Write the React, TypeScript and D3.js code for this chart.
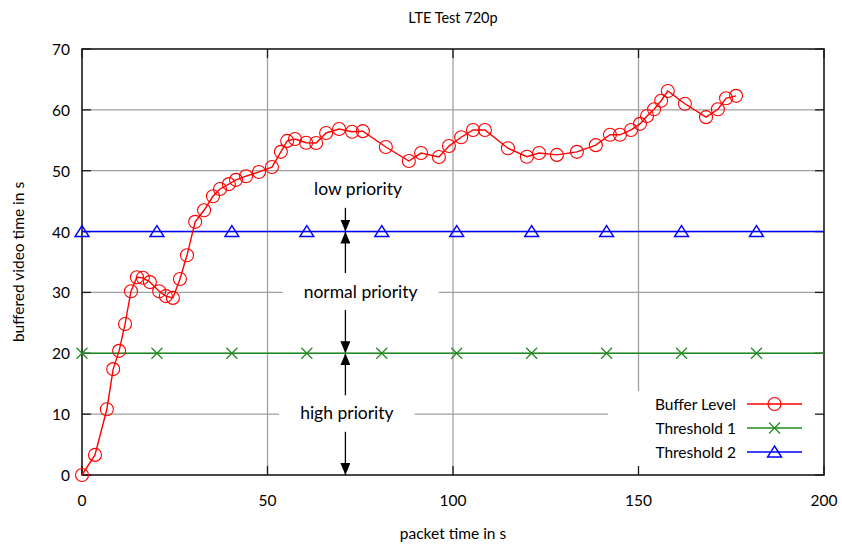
import * as d3 from 'd3'
import { useEffect, useRef } from 'react'

const bufferTime = [
  0, 3.5, 6.7, 8.4, 10, 11.6, 13.2, 14.8, 16.4, 18.3, 20.8, 22.6, 24.5, 26.4, 28.3, 30.5, 32.9, 35.3, 37.2, 39.6,
  41.5, 44.2, 47.7, 51.2, 53.6, 55.3, 57.4, 60.4, 63.1, 65.8, 69.3, 72.8, 75.7, 81.9, 88.1, 91.4, 96.2, 98.9, 102.2,
  105.4, 108.6, 114.8, 119.9, 123.2, 128.0, 133.4, 138.5, 142.3, 145.0, 148.0, 150.4, 152.3, 154.2, 156.1, 157.9,
  162.5, 168.2, 171.4, 173.6, 176.3,
]
const bufferLevel = [
  0, 3.3, 10.8, 17.4, 20.4, 24.8, 30.2, 32.5, 32.4, 31.7, 30.2, 29.4, 29.1, 32.2, 36.1, 41.6, 43.5, 45.8, 47.0, 47.8,
  48.5, 49.1, 49.8, 50.6, 53.1, 54.9, 55.2, 54.6, 54.55, 56.2, 56.85, 56.4, 56.5, 53.9, 51.6, 52.9, 52.25, 54.05, 55.5,
  56.7, 56.7, 53.7, 52.3, 52.9, 52.6, 53.1, 54.2, 55.9, 55.9, 56.7, 57.7, 59.0, 60.1, 61.5, 63.1, 61.0, 58.8, 60.1,
  61.9, 62.3,
]

const thresholdTime = [0, 20.2, 40.4, 60.6, 80.8, 101, 121.2, 141.4, 161.6, 181.8, 200]
const threshold1 = [20, 20, 20, 20, 20, 20, 20, 20, 20, 20, 20]
const threshold2 = [40, 40, 40, 40, 40, 40, 40, 40, 40, 40, 40]

const xTicks = [0, 50, 100, 150, 200]
const yTicks = [0, 10, 20, 30, 40, 50, 60, 70]

const zoneLabels = ['low priority', 'normal priority', 'high priority']
const zoneLabelX = [74.4, 75.1, 71.4]
const zoneLabelY = [47.0, 30.1, 10.2]

const arrowX = 71
const arrowFrom = [43.9, 33.2, 27.1, 13.1, 7.1]
const arrowTo = [40, 40, 20, 20, 0]

const legendNames = ['Buffer Level', 'Threshold 1', 'Threshold 2']

const RED = '#ff0000'
const GREEN = '#1f8a1f'
const BLUE = '#0000ff'
const GRID = '#a0a0a0'
const FONT = 'Lato, "Open Sans", sans-serif'

export default function App() {
  const ref = useRef<SVGSVGElement | null>(null)
  const width = 842
  const height = 544

  useEffect(() => {
    const svgEl = ref.current
    if (!svgEl) return
    const svg = d3.select(svgEl)
    svg.selectAll('*').remove()

    const left = 82
    const right = 824
    const top = 49
    const bottom = 475
    const x = d3.scaleLinear().domain([0, 200]).range([left, right])
    const y = d3.scaleLinear().domain([0, 70]).range([bottom, top])

    svg.append('rect').attr('width', width).attr('height', height).attr('fill', '#fff')

    // grid
    const gGrid = svg.append('g')
    for (const t of xTicks.slice(1, -1)) {
      gGrid.append('line').attr('x1', x(t)).attr('x2', x(t)).attr('y1', top).attr('y2', bottom)
        .attr('stroke', GRID).attr('stroke-width', 1.3)
    }
    for (const t of yTicks.slice(1, -1)) {
      gGrid.append('line').attr('x1', left).attr('x2', right).attr('y1', y(t)).attr('y2', y(t))
        .attr('stroke', GRID).attr('stroke-width', 1.3)
    }

    // label boxes (white, cut the grid)
    const gLabels = svg.append('g')
    zoneLabels.forEach((lbl, i) => {
      const t = gLabels.append('text')
        .attr('x', x(zoneLabelX[i]))
        .attr('y', y(zoneLabelY[i]))
        .attr('text-anchor', 'middle')
        .attr('dominant-baseline', 'central')
        .attr('font-family', FONT)
        .attr('font-size', 17.5)
        .attr('fill', '#000')
        .text(lbl)
      const w = (t.node() as SVGTextElement).getComputedTextLength()
      gLabels.insert('rect', 'text')
        .attr('x', x(zoneLabelX[i]) - w / 2 - 21)
        .attr('y', y(zoneLabelY[i]) - 13)
        .attr('width', w + 42)
        .attr('height', 26)
        .attr('fill', '#fff')
    })

    // legend box
    svg.append('rect').attr('x', 608).attr('y', 391).attr('width', right - 608).attr('height', bottom - 391)
      .attr('fill', '#fff')

    // border + ticks
    const gAxis = svg.append('g').attr('stroke', '#1a1a1a')
    for (const t of xTicks) {
      gAxis.append('line').attr('x1', x(t)).attr('x2', x(t)).attr('y1', bottom).attr('y2', bottom - 9).attr('stroke-width', 1.3)
      gAxis.append('line').attr('x1', x(t)).attr('x2', x(t)).attr('y1', top).attr('y2', top + 9).attr('stroke-width', 1.3)
    }
    for (const t of yTicks) {
      gAxis.append('line').attr('x1', left).attr('x2', left + 9).attr('y1', y(t)).attr('y2', y(t)).attr('stroke-width', 1.3)
      gAxis.append('line').attr('x1', right).attr('x2', right - 9).attr('y1', y(t)).attr('y2', y(t)).attr('stroke-width', 1.3)
    }
    gAxis.append('rect').attr('x', left).attr('y', top).attr('width', right - left).attr('height', bottom - top)
      .attr('fill', 'none').attr('stroke-width', 1.6)

    // tick labels
    const gText = svg.append('g').attr('font-family', FONT).attr('font-size', 15.5).attr('fill', '#000')
    for (const t of xTicks) {
      gText.append('text').attr('x', x(t)).attr('y', 500).attr('text-anchor', 'middle')
        .attr('dominant-baseline', 'central').text(t)
    }
    for (const t of yTicks) {
      gText.append('text').attr('x', 70).attr('y', y(t)).attr('text-anchor', 'end')
        .attr('dominant-baseline', 'central').text(t)
    }
    gText.append('text').attr('x', (left + right) / 2).attr('y', 533).attr('text-anchor', 'middle')
      .attr('dominant-baseline', 'central').text('packet time in s')
    gText.append('text').attr('transform', `translate(18,${(top + bottom) / 2}) rotate(-90)`)
      .attr('text-anchor', 'middle').attr('dominant-baseline', 'central').text('buffered video time in s')
    gText.append('text').attr('x', (left + right) / 2).attr('y', 17).attr('text-anchor', 'middle')
      .attr('dominant-baseline', 'central').attr('font-size', 14.5).text('LTE Test 720p')

    // arrows
    const defs = svg.append('defs')
    defs.append('marker').attr('id', 'ah').attr('viewBox', '0 0 12 10').attr('refX', 12).attr('refY', 5)
      .attr('markerWidth', 12).attr('markerHeight', 10).attr('markerUnits', 'userSpaceOnUse').attr('orient', 'auto')
      .append('path').attr('d', 'M0,0L12,5L0,10Z').attr('fill', '#000')
    arrowFrom.forEach((f, i) => {
      svg.append('line').attr('x1', x(arrowX)).attr('x2', x(arrowX)).attr('y1', y(f)).attr('y2', y(arrowTo[i]))
        .attr('stroke', '#000').attr('stroke-width', 1.3).attr('marker-end', 'url(#ah)')
    })

    const line = d3.line<[number, number]>().x((d) => x(d[0])).y((d) => y(d[1]))

    const drawX = (g: d3.Selection<SVGGElement, unknown, null, undefined>, cx: number, cy: number) => {
      const s = 5.5
      g.append('path').attr('d', `M${cx - s},${cy - s}L${cx + s},${cy + s}M${cx - s},${cy + s}L${cx + s},${cy - s}`)
        .attr('stroke', GREEN).attr('stroke-width', 1.2).attr('fill', 'none')
    }
    const drawTri = (g: d3.Selection<SVGGElement, unknown, null, undefined>, cx: number, cy: number) => {
      g.append('path').attr('d', `M${cx},${cy - 6}L${cx + 7},${cy + 5}L${cx - 7},${cy + 5}Z`)
        .attr('stroke', BLUE).attr('stroke-width', 1.4).attr('fill', 'none')
    }
    const drawO = (g: d3.Selection<SVGGElement, unknown, null, undefined>, cx: number, cy: number) => {
      g.append('circle').attr('cx', cx).attr('cy', cy).attr('r', 6.5)
        .attr('stroke', RED).attr('stroke-width', 1.1).attr('fill', 'none')
    }

    // threshold lines
    const gT1 = svg.append('g')
    gT1.append('path').attr('d', line(thresholdTime.map((t, i) => [t, threshold1[i]]))!)
      .attr('stroke', GREEN).attr('stroke-width', 1.4).attr('fill', 'none')
    thresholdTime.slice(0, -1).forEach((t, i) => drawX(gT1, x(t), y(threshold1[i])))

    const gT2 = svg.append('g')
    gT2.append('path').attr('d', line(thresholdTime.map((t, i) => [t, threshold2[i]]))!)
      .attr('stroke', BLUE).attr('stroke-width', 1.4).attr('fill', 'none')
    thresholdTime.slice(0, -1).forEach((t, i) => drawTri(gT2, x(t), y(threshold2[i])))

    // buffer level
    const gB = svg.append('g')
    gB.append('path').attr('d', line(bufferTime.map((t, i) => [t, bufferLevel[i]]))!)
      .attr('stroke', RED).attr('stroke-width', 1.4).attr('fill', 'none')
    bufferTime.forEach((t, i) => drawO(gB, x(t), y(bufferLevel[i])))

    // legend
    const gLeg = svg.append('g')
    const legendDraw = [drawO, drawX, drawTri]
    const legendColor = [RED, GREEN, BLUE]
    legendNames.forEach((name, i) => {
      const ly = 404 + i * 24
      gLeg.append('text').attr('x', 736).attr('y', ly).attr('text-anchor', 'end').attr('dominant-baseline', 'central')
        .attr('font-family', FONT).attr('font-size', 15.5).attr('fill', '#000').text(name)
      gLeg.append('line').attr('x1', 747).attr('x2', 802).attr('y1', ly).attr('y2', ly)
        .attr('stroke', legendColor[i]).attr('stroke-width', 1.4)
      legendDraw[i](gLeg, 774.5, ly)
    })
  }, [])

  return (
    <svg
      ref={ref}
      width={width}
      height={height}
      style={{ position: 'absolute', left: 0, top: 0, display: 'block' }}
    />
  )
}
